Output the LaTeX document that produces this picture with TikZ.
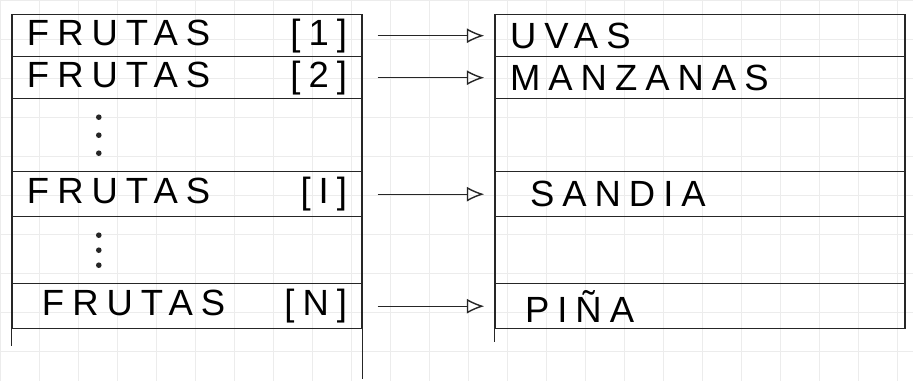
\documentclass[tikz,border=0pt]{standalone}
\usepackage{fontspec}
\newfontfamily\mano[LetterSpace=22]{Liberation Sans}
\usepackage{tikz}
\usetikzlibrary{arrows.meta, positioning, calc}

\begin{document}
\begin{tikzpicture}[
  every node/.style={font=\huge\mano},
  celda/.style={draw=black!85, thick, anchor=north, inner xsep=0.3cm,
                inner ysep=0pt, align=left},
  izq/.style={celda, text width=6.4cm},
  der/.style={celda, text width=7.6cm},
  punto/.style={fill=black!85},
  flecha/.style={thick, draw=black!85, -{Latex[open, length=3.5mm, width=3mm]},
                 shorten <=3mm, shorten >=2mm},
]
  % Papel cuadriculado
  \useasboundingbox (0,0) rectangle (18.26,-7.62);
  \draw[step=0.78cm, gray!15] (0,0) grid (18.26,-7.62);

  % Arreglo de la izquierda: FRUTAS[i]
  \foreach \n/\y/\h/\t in {
      1/-0.28/0.84/{FRUTAS\hfill[1]\hspace*{0.3cm}},
      2/-1.12/0.84/{FRUTAS\hfill[2]\hspace*{0.3cm}},
      3/-1.96/1.46/{},
      4/-3.42/0.90/{FRUTAS\hfill[I]\hspace*{0.3cm}},
      5/-4.32/1.34/{},
      6/-5.66/0.90/{\hspace*{0.3cm}FRUTAS\hfill[N]\hspace*{0.3cm}}} {
    \node[izq, minimum height=\h cm] (f\n) at (3.74, \y) {\t};
  }

  % Puntos suspensivos
  \foreach \k in {-1,0,1} {
    \fill[punto] ($(f3.west)+(1.75,\k*0.36)$) circle (1.6pt);
    \fill[punto] ($(f5.west)+(1.75,\k*0.3)$) circle (1.6pt);
  }

  % Arreglo de la derecha: valores
  \foreach \n/\y/\h/\t in {
      1/-0.28/0.84/{UVAS},
      2/-1.12/0.84/{MANZANAS},
      3/-1.96/1.46/{},
      4/-3.42/0.90/{\hspace*{0.4cm}SANDIA},
      5/-4.32/1.34/{},
      6/-5.66/0.90/{\hspace*{0.3cm}PIÑA}} {
    \node[der, minimum height=\h cm] (v\n) at (14.0, \y) {\t};
  }

  % Bordes que siguen hacia abajo
  \draw[thick, black!85] (f6.south west) -- ++(0,-0.34);
  \draw[thick, black!85] (f6.south east) -- ++(0,-1.0);
  \draw[thick, black!85] (v6.south west) -- ++(0,-0.26);

  % Flechas
  \draw[flecha] (f1) -- (v1);
  \draw[flecha] (f2) -- (v2);
  \draw[flecha] (f4) -- (v4);
  \draw[flecha] (f6) -- (v6);
\end{tikzpicture}
\end{document}
